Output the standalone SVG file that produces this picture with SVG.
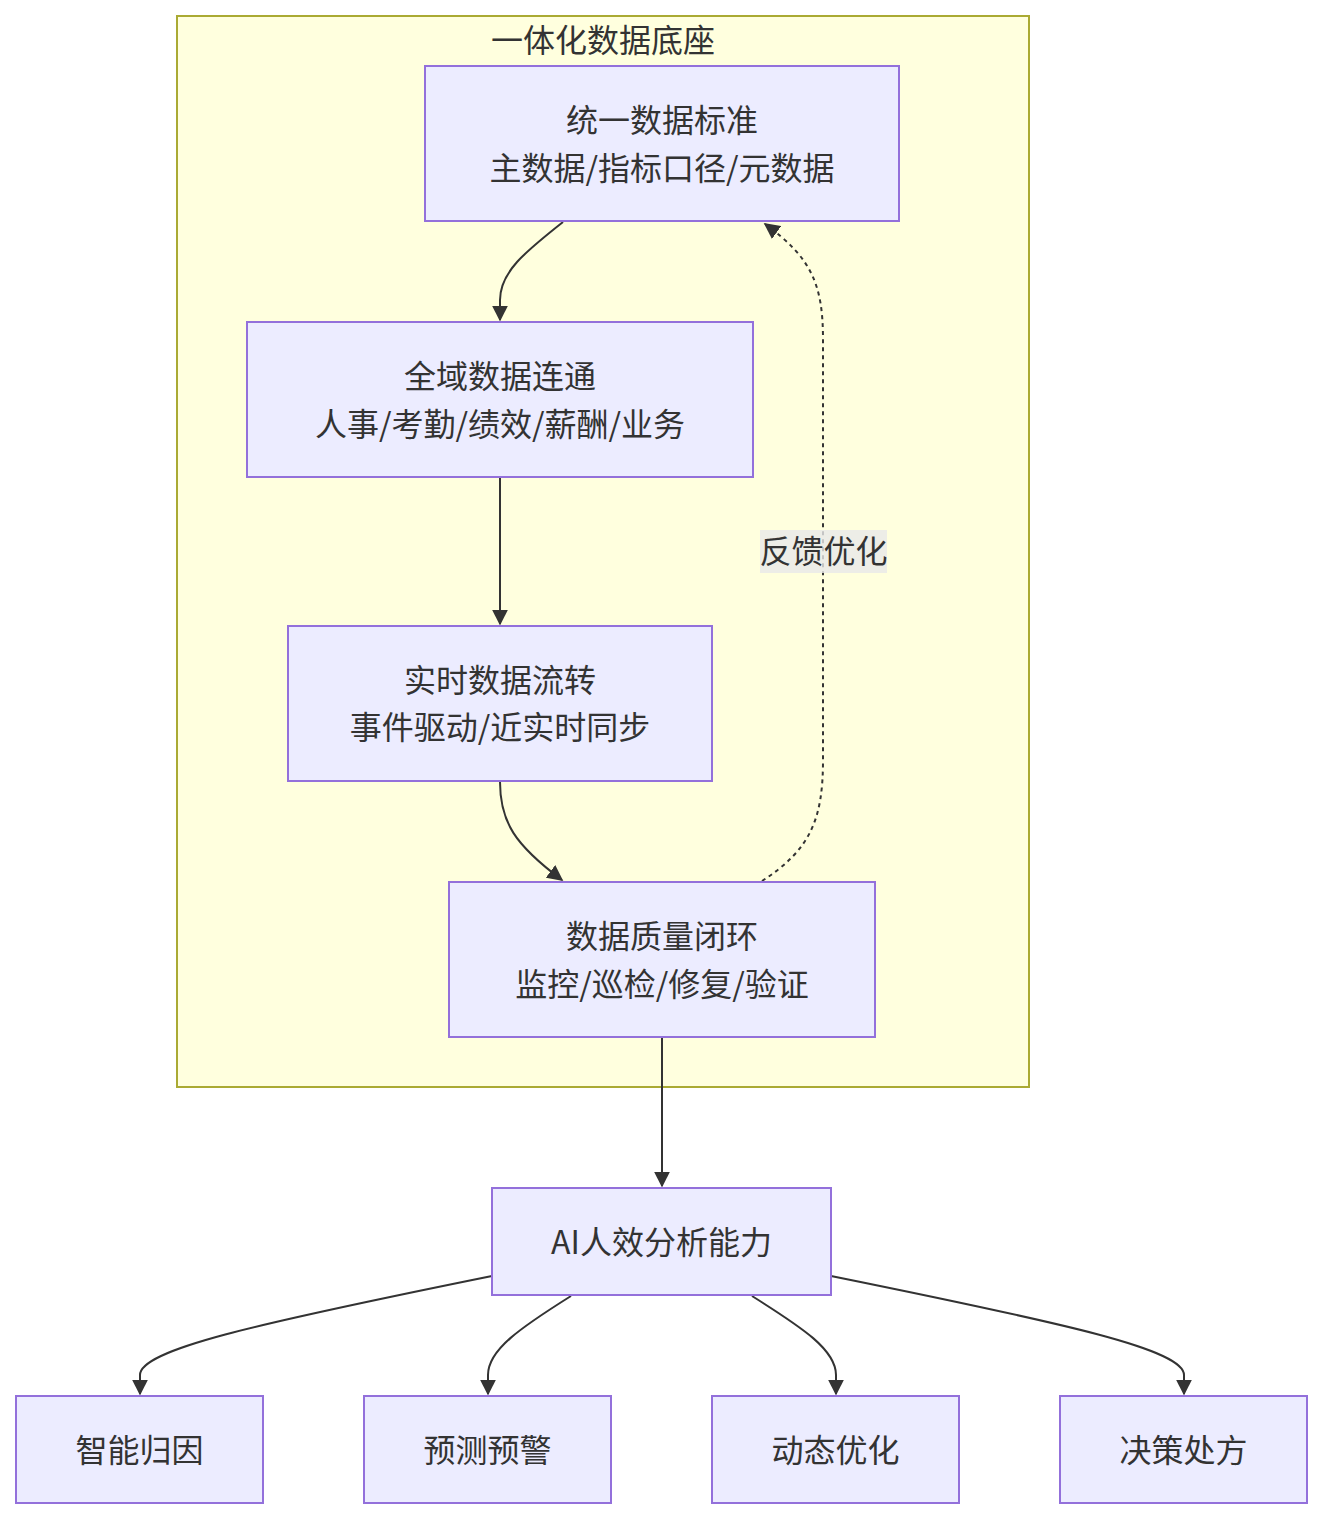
<svg xmlns="http://www.w3.org/2000/svg" width="1324" height="1520" viewBox="0 0 1324 1520">
<defs>
<style>
.node rect{fill:#ECECFF;stroke:#9370DB;stroke-width:2}
.cluster rect{fill:#ffffde;stroke:#aaaa33;stroke-width:2}
text{font-family:"Noto Sans CJK SC","Noto Sans",sans-serif;font-size:32px;fill:#333333;text-anchor:middle;dominant-baseline:central}
.edge{fill:none;stroke:#333333;stroke-width:2}
.dotted{stroke-dasharray:4 4}
</style>
<marker id="arrow" viewBox="0 0 10 10" refX="9" refY="5" markerUnits="userSpaceOnUse" markerWidth="16" markerHeight="16" orient="auto">
<path d="M0,0 L10,5 L0,10 z" fill="#333333"/>
</marker>
</defs>
<rect width="1324" height="1520" fill="#ffffff"/>
<g id="cluster-base" class="cluster">
<rect x="177" y="16" width="852" height="1071"/>
<text x="603" y="38">一体化数据底座</text>
</g>
<g id="connectors">
<path class="edge" d="M563,222 C525,252 500,272 500,300 L500,320" marker-end="url(#arrow)"/>
<path class="edge" d="M500,478 L500,624" marker-end="url(#arrow)"/>
<path class="edge" d="M500,782 C500,822 515,845 562,880" marker-end="url(#arrow)"/>
<path class="edge dotted" d="M762,881 C810,850 823,820 823,760 L823,340 C823,285 812,258 765,224" marker-end="url(#arrow)"/>
<path class="edge" d="M662,1038 L662,1186" marker-end="url(#arrow)"/>
<path class="edge" d="M492,1276 C250,1325 140,1350 140,1375 L140,1394" marker-end="url(#arrow)"/>
<path class="edge" d="M571,1296 C520,1328 488,1350 488,1375 L488,1394" marker-end="url(#arrow)"/>
<path class="edge" d="M752,1296 C803,1328 836,1350 836,1375 L836,1394" marker-end="url(#arrow)"/>
<path class="edge" d="M831,1276 C1073,1325 1184,1350 1184,1375 L1184,1394" marker-end="url(#arrow)"/>
<g id="label-feedback">
<rect x="760" y="530" width="127" height="43" fill="#e8e8e8" fill-opacity="0.8"/>
<text x="823.5" y="549">反馈优化</text>
</g>
</g>
<g id="node-A" class="node">
<rect x="425" y="66" width="474" height="155"/>
<text x="662" y="118">统一数据标准</text>
<text x="662" y="166">主数据/指标口径/元数据</text>
</g>
<g id="node-B" class="node">
<rect x="247" y="322" width="506" height="155"/>
<text x="500" y="374">全域数据连通</text>
<text x="500" y="422">人事/考勤/绩效/薪酬/业务</text>
</g>
<g id="node-C" class="node">
<rect x="288" y="626" width="424" height="155"/>
<text x="500" y="678">实时数据流转</text>
<text x="500" y="725">事件驱动/近实时同步</text>
</g>
<g id="node-D" class="node">
<rect x="449" y="882" width="426" height="155"/>
<text x="662" y="934">数据质量闭环</text>
<text x="662" y="982">监控/巡检/修复/验证</text>
</g>
<g id="node-E" class="node">
<rect x="492" y="1188" width="339" height="107"/>
<text x="661.5" y="1240">AI人效分析能力</text>
</g>
<g id="node-F1" class="node">
<rect x="16" y="1396" width="247" height="107"/>
<text x="139.5" y="1448">智能归因</text>
</g>
<g id="node-F2" class="node">
<rect x="364" y="1396" width="247" height="107"/>
<text x="487.5" y="1448">预测预警</text>
</g>
<g id="node-F3" class="node">
<rect x="712" y="1396" width="247" height="107"/>
<text x="835.5" y="1448">动态优化</text>
</g>
<g id="node-F4" class="node">
<rect x="1060" y="1396" width="247" height="107"/>
<text x="1183.5" y="1448">决策处方</text>
</g>
</svg>
